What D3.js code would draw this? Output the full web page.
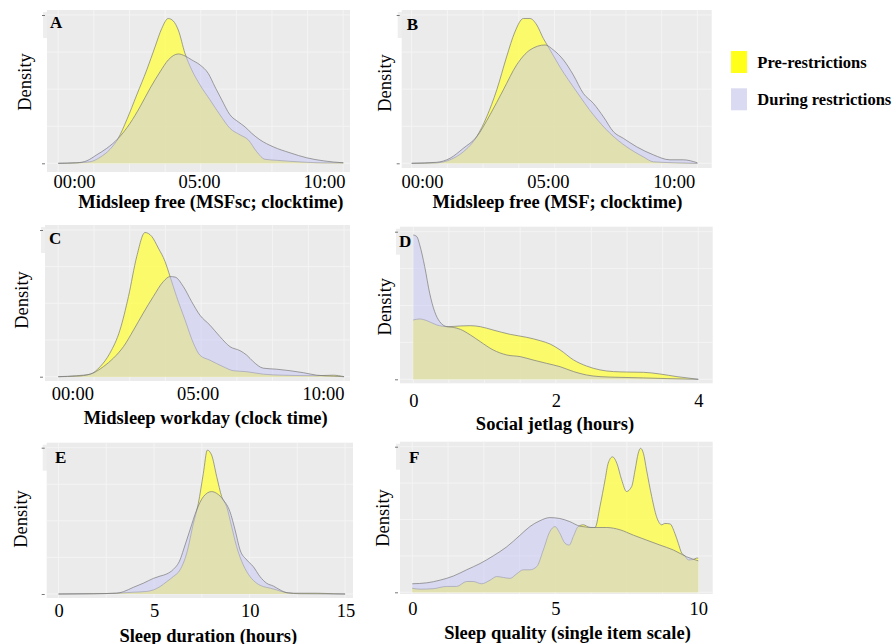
<!DOCTYPE html>
<html>
<head>
<meta charset="utf-8">
<script src="https://cdn.jsdelivr.net/npm/d3@7"></script>
<style>
  html, body { margin: 0; padding: 0; background: #ffffff; }
  svg { display: block; }
</style>
</head>
<body>
<svg id="chart" width="894" height="644"></svg>
<script>
// Series names and colours
const groups = ["Pre-restrictions", "During restrictions"];
const groupFill = ["#FFFF40", "#C5C5F5"];
const groupOpacity = [0.75, 0.5];
const legendFill = ["#FFFF1A", "#DADAF2"];

// Tick labels
const clockTickValues = [0, 5, 10];
const clockTickLabels = ["00:00", "05:00", "10:00"];
const jetlagTickValues = [0, 2, 4];
const durationTickValues = [0, 5, 10, 15];
const qualityTickValues = [0, 5, 10];

// A: Midsleep free (MSFsc), hours after midnight -> density
const preA = [[-0.63,0],[0.11,0.001],[0.64,0.003],[1.04,0.012],[1.44,0.028],[1.77,0.050],[2.11,0.087],[2.51,0.137],[2.91,0.187],[3.24,0.233],[3.51,0.270],[3.77,0.290],[3.97,0.285],[4.17,0.267],[4.44,0.220],[4.71,0.187],[5.04,0.157],[5.44,0.127],[5.84,0.097],[6.24,0.070],[6.64,0.057],[6.97,0.047],[7.31,0.023],[7.64,0.008],[8.11,0.006],[8.64,0.004],[9.31,0.002],[9.97,0.001],[10.77,0.001]];
const durA = [[-0.63,0],[0.11,0.001],[0.51,0.005],[0.91,0.017],[1.31,0.030],[1.77,0.050],[2.24,0.080],[2.64,0.113],[3.04,0.150],[3.44,0.183],[3.77,0.207],[4.17,0.219],[4.44,0.215],[4.71,0.207],[5.04,0.197],[5.37,0.180],[5.64,0.153],[5.91,0.127],[6.24,0.097],[6.57,0.083],[6.84,0.073],[7.11,0.060],[7.44,0.047],[7.97,0.033],[8.64,0.021],[9.31,0.011],[9.97,0.005],[10.77,0.001]];

// B: Midsleep free (MSF)
const preB = [[-0.41,0],[0.58,0.001],[1.11,0.007],[1.64,0.023],[2.17,0.053],[2.57,0.093],[2.97,0.147],[3.36,0.213],[3.69,0.263],[4.03,0.290],[4.29,0.290],[4.56,0.277],[4.82,0.250],[5.02,0.233],[5.48,0.193],[6.15,0.143],[6.81,0.097],[7.47,0.060],[8.13,0.033],[8.79,0.013],[9.19,0.003],[10.12,0.001],[10.94,0]];
const durB = [[-0.41,0],[0.58,0.002],[1.11,0.010],[1.64,0.030],[2.17,0.053],[2.70,0.097],[3.23,0.147],[3.76,0.197],[4.29,0.227],[4.89,0.237],[5.22,0.227],[5.62,0.207],[6.01,0.177],[6.41,0.140],[6.81,0.120],[7.21,0.093],[7.61,0.063],[8.00,0.050],[8.53,0.033],[9.19,0.017],[9.85,0.007],[10.38,0.007],[10.94,0.001]];

// C: Midsleep workday
const preC = [[-0.56,0],[0.17,0.002],[0.71,0.005],[1.11,0.020],[1.50,0.047],[1.90,0.093],[2.24,0.160],[2.57,0.240],[2.90,0.288],[3.17,0.280],[3.43,0.257],[3.70,0.230],[3.90,0.200],[4.16,0.160],[4.50,0.113],[4.83,0.067],[5.09,0.043],[5.49,0.033],[6.02,0.020],[6.42,0.012],[6.96,0.010],[7.62,0.005],[8.42,0.003],[9.75,0.002],[10.41,0.003],[10.84,0]];
const durC = [[-0.56,0],[0.17,0.001],[0.71,0.005],[1.24,0.020],[1.64,0.037],[2.04,0.060],[2.44,0.093],[2.83,0.127],[3.23,0.160],[3.63,0.190],[3.90,0.200],[4.10,0.199],[4.43,0.180],[4.76,0.150],[5.09,0.123],[5.49,0.103],[5.89,0.080],[6.29,0.060],[6.69,0.052],[6.96,0.043],[7.22,0.030],[7.62,0.017],[8.15,0.015],[8.68,0.012],[9.22,0.008],[9.75,0.003],[10.41,0.001],[10.84,0]];

// D: Social jetlag (hours)
const preD = [[0,0.424],[0.09,0.431],[0.19,0.419],[0.33,0.388],[0.49,0.376],[0.66,0.381],[0.80,0.383],[0.94,0.376],[1.12,0.352],[1.36,0.321],[1.59,0.300],[1.78,0.276],[1.92,0.252],[2.06,0.210],[2.25,0.138],[2.43,0.095],[2.62,0.067],[2.81,0.055],[2.99,0.052],[3.23,0.050],[3.46,0.038],[3.70,0.019],[4.0,0]];
const durD = [[0,1.031],[0.05,1.019],[0.09,0.960],[0.16,0.805],[0.23,0.614],[0.30,0.483],[0.37,0.412],[0.47,0.376],[0.56,0.371],[0.66,0.357],[0.80,0.317],[0.94,0.269],[1.12,0.210],[1.31,0.174],[1.50,0.162],[1.68,0.138],[1.87,0.114],[2.06,0.090],[2.25,0.055],[2.43,0.031],[2.62,0.019],[2.90,0.014],[3.23,0.010],[3.56,0.005],[4.0,0]];

// E: Sleep duration (hours)
const preE = [[0,0],[1.82,0.001],[3.04,0.003],[3.91,0.007],[4.61,0.010],[4.96,0.016],[5.31,0.029],[5.65,0.048],[6.00,0.068],[6.35,0.094],[6.70,0.159],[7.05,0.276],[7.31,0.354],[7.57,0.471],[7.78,0.562],[8.00,0.543],[8.27,0.458],[8.53,0.380],[8.79,0.341],[9.05,0.263],[9.31,0.185],[9.66,0.113],[10.01,0.068],[10.36,0.042],[10.71,0.029],[11.06,0.023],[11.40,0.016],[11.75,0.008],[12.28,0.003],[13.50,0.003],[14.37,0.001],[14.98,0]];
const durE = [[0,0],[1.82,0.001],[3.04,0.003],[3.39,0.009],[3.91,0.026],[4.43,0.042],[4.96,0.061],[5.31,0.070],[5.65,0.078],[6.00,0.096],[6.35,0.133],[6.53,0.172],[6.87,0.250],[7.22,0.328],[7.57,0.380],[8.00,0.400],[8.27,0.393],[8.62,0.367],[8.96,0.322],[9.23,0.250],[9.49,0.172],[9.84,0.133],[10.18,0.107],[10.53,0.068],[10.88,0.042],[11.23,0.031],[11.58,0.016],[11.93,0.005],[12.62,0.001],[14.98,0]];

// F: Sleep quality (single item scale)
const preF = [[0,0.009],[0.27,0.007],[0.73,0.008],[1.20,0.013],[1.55,0.013],[1.90,0.024],[2.13,0.024],[2.42,0.019],[2.72,0.027],[2.95,0.035],[3.18,0.033],[3.42,0.031],[3.65,0.041],[3.88,0.050],[4.11,0.050],[4.35,0.057],[4.58,0.094],[4.81,0.135],[4.99,0.146],[5.16,0.131],[5.34,0.109],[5.49,0.105],[5.63,0.124],[5.80,0.146],[5.98,0.150],[6.21,0.144],[6.39,0.144],[6.56,0.190],[6.74,0.250],[6.85,0.287],[7.00,0.301],[7.15,0.287],[7.32,0.250],[7.49,0.224],[7.67,0.235],[7.79,0.272],[7.90,0.309],[7.98,0.320],[8.08,0.309],[8.19,0.272],[8.37,0.213],[8.54,0.168],[8.72,0.150],[8.83,0.153],[9.01,0.152],[9.18,0.131],[9.30,0.109],[9.42,0.087],[9.53,0.081],[9.65,0.072],[9.83,0.073],[9.94,0.076],[10.0,0.076]];
const durF = [[0,0.019],[0.50,0.021],[0.97,0.027],[1.43,0.036],[1.90,0.050],[2.37,0.064],[2.83,0.081],[3.30,0.101],[3.77,0.127],[4.11,0.146],[4.46,0.159],[4.81,0.166],[5.16,0.164],[5.51,0.157],[5.86,0.147],[6.33,0.144],[6.80,0.144],[7.26,0.139],[7.73,0.127],[8.19,0.116],[8.66,0.105],[9.13,0.094],[9.59,0.079],[10.0,0.070]];

const serif = "'Liberation Serif','Times New Roman',serif";
const svg = d3.select("#chart");

// Panel layout (pixel frames); data comes from the arrays above
const panels = [
  { tag: "A", pre: preA, dur: durA, xDom: [0, 10], xRng: [74, 324], ticks: clockTickValues, labels: clockTickLabels,
    frame: [47, 10, 350, 172], base: 163.3, yTop: 0.307, gridN: 8, tickY: 188.3,
    title: "Midsleep free (MSFsc; clocktime)", titleX: 210.8, titleY: 207.5, ylab: [30.5, 82], tagPos: [50, 28] },
  { tag: "B", pre: preB, dur: durB, xDom: [0, 10], xRng: [422, 673.7], ticks: clockTickValues, labels: clockTickLabels,
    frame: [401.7, 10, 711.7, 168], base: 163.3, yTop: 0.307, gridN: 8, tickY: 188.3,
    title: "Midsleep free (MSF; clocktime)", titleX: 557.5, titleY: 207.5, ylab: [390.5, 83], tagPos: [406.7, 30] },
  { tag: "C", pre: preC, dur: durC, xDom: [0, 10], xRng: [72.3, 323], ticks: clockTickValues, labels: clockTickLabels,
    frame: [45, 225, 350, 381], base: 376.7, yTop: 0.303, gridN: 8, tickY: 400,
    title: "Midsleep workday (clock time)", titleX: 205.7, titleY: 424, ylab: [28, 300], tagPos: [49, 244] },
  { tag: "D", pre: preD, dur: durD, xDom: [0, 4], xRng: [413.3, 698.3], ticks: jetlagTickValues, labels: null,
    frame: [400, 226.7, 712.7, 383.3], base: 379.3, yTop: 1.09, gridN: 8, tickY: 406.7,
    title: "Social jetlag (hours)", titleX: 555, titleY: 430, ylab: [390.5, 306.7], tagPos: [399, 247] },
  { tag: "E", pre: preE, dur: durE, xDom: [0, 15], xRng: [58.5, 345.5], ticks: durationTickValues, labels: null,
    frame: [46.7, 442.7, 353, 598], base: 594, yTop: 0.591, gridN: 6, tickY: 617.3,
    title: "Sleep duration (hours)", titleX: 208.3, titleY: 641.5, ylab: [27.2, 519], tagPos: [55, 463] },
  { tag: "F", pre: preF, dur: durF, xDom: [0, 10], xRng: [412.3, 698.3], ticks: qualityTickValues, labels: null,
    frame: [400, 441.7, 712.7, 594], base: 592.3, yTop: 0.3347, gridN: 8, tickY: 615,
    title: "Sleep quality (single item scale)", titleX: 567.5, titleY: 638.5, ylab: [389, 518], tagPos: [409, 463] }
];

panels.forEach(p => {
  const [fx0, fy0, fx1, fy1] = p.frame;
  const x = d3.scaleLinear().domain(p.xDom).range(p.xRng);
  const y = d3.scaleLinear().domain([0, p.yTop]).range([p.base, fy0]);
  const g = svg.append("g").attr("class", "panel-" + p.tag);

  // tag box sitting just left of the panel
  g.append("rect").attr("x", fx0 - 4).attr("y", fy0 + 2).attr("width", 26).attr("height", 26).attr("fill", "#EEEEEE");
  // panel background
  g.append("rect").attr("x", fx0).attr("y", fy0).attr("width", fx1 - fx0).attr("height", fy1 - fy0).attr("fill", "#EBEBEB");

  // grid: vertical lines evenly over the data extent
  const allX = p.pre.concat(p.dur).map(d => d[0]);
  const gx0 = d3.min(allX), gx1 = d3.max(allX);
  const vGrid = d3.range(p.gridN + 1).map(i => gx0 + i * (gx1 - gx0) / p.gridN);
  const yTick = y.invert(fy0 + 5);
  const hGrid = d3.range(5).map(i => i * yTick / 4);
  g.selectAll(".vg").data(vGrid).join("line")
    .attr("x1", d => x(d)).attr("x2", d => x(d)).attr("y1", fy0).attr("y2", fy1)
    .attr("stroke", "#F4F4F4").attr("stroke-width", 1);
  g.selectAll(".hg").data(hGrid).join("line")
    .attr("x1", fx0).attr("x2", fx1).attr("y1", d => y(d)).attr("y2", d => y(d))
    .attr("stroke", "#F4F4F4").attr("stroke-width", 1);

  // small y-axis ticks at zero and at the upper break
  const yAxis = d3.axisLeft(y).tickValues([0, yTick]).tickSize(3).tickFormat("");
  const ya = g.append("g").attr("transform", `translate(${fx0 - 2},0)`).call(yAxis);
  ya.select(".domain").remove();
  ya.selectAll("line").attr("stroke", "#555").attr("stroke-width", 0.8);

  // density areas: pre first, during on top
  const area = d3.area().x(d => x(d[0])).y0(y(0)).y1(d => y(d[1])).curve(d3.curveMonotoneX);
  const line = d3.line().x(d => x(d[0])).y(d => y(d[1])).curve(d3.curveMonotoneX);
  [p.pre, p.dur].forEach((series, i) => {
    g.append("path").datum(series).attr("d", area)
      .attr("fill", groupFill[i]).attr("fill-opacity", groupOpacity[i]);
    g.append("path").datum(series).attr("d", line)
      .attr("fill", "none").attr("stroke", "#7a7a7a").attr("stroke-width", 0.7);
  });

  // x axis labels
  const xAxis = d3.axisBottom(x).tickValues(p.ticks).tickSize(0)
    .tickFormat((d, i) => p.labels ? p.labels[i] : d3.format("d")(d));
  const xa = g.append("g").attr("transform", `translate(0,${p.tickY})`).call(xAxis);
  xa.select(".domain").remove();
  xa.selectAll("text").attr("y", 0).attr("dy", 0)
    .attr("font-family", serif).attr("font-size", 18.5).attr("fill", "#000");

  // axis title
  g.append("text").attr("x", p.titleX).attr("y", p.titleY).attr("text-anchor", "middle")
    .attr("font-family", serif).attr("font-weight", "bold").attr("font-size", 18.5).text(p.title);
  // y label
  g.append("text").attr("transform", `translate(${p.ylab[0]},${p.ylab[1]}) rotate(-90)`)
    .attr("text-anchor", "middle").attr("font-family", serif).attr("font-size", 18.5).text("Density");
  // panel tag
  g.append("text").attr("x", p.tagPos[0]).attr("y", p.tagPos[1])
    .attr("font-family", serif).attr("font-weight", "bold").attr("font-size", 17).text(p.tag);
});

// legend
const legend = svg.append("g").attr("class", "legend");
const legendY = d3.scalePoint().domain(groups).range([51, 88.3]);
legend.selectAll("rect").data(groups).join("rect")
  .attr("x", 731).attr("y", d => legendY(d)).attr("width", 16).attr("height", 22)
  .attr("fill", (d, i) => legendFill[i]);
legend.selectAll("text").data(groups).join("text")
  .attr("x", 757.3).attr("y", d => legendY(d) + 16.5)
  .attr("font-family", serif).attr("font-weight", "bold").attr("font-size", 16.5).text(d => d);
</script>
</body>
</html>
